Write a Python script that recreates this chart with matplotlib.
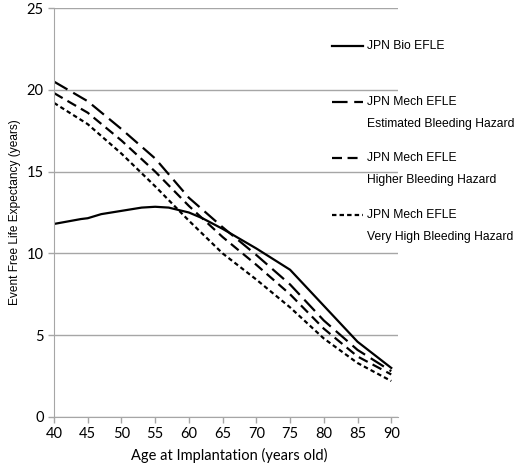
import numpy as np
import matplotlib.pyplot as plt
from matplotlib.lines import Line2D

# data
age_bio = [40, 42, 44, 45, 47, 50, 53, 55, 57, 60, 62, 65, 70, 75, 80, 85, 90]
bio = [11.8, 11.95, 12.1, 12.15, 12.4, 12.6, 12.8, 12.85, 12.8, 12.5, 12.15, 11.5, 10.3, 9.0, 6.8, 4.6, 3.0]

age_mech = [40, 45, 50, 55, 60, 65, 70, 75, 80, 85, 90]
mech_est = [20.5, 19.3, 17.6, 15.8, 13.4, 11.6, 9.9, 8.1, 5.9, 4.1, 2.8]
mech_high = [19.8, 18.6, 16.9, 15.0, 12.9, 11.0, 9.3, 7.5, 5.4, 3.7, 2.6]
mech_vhigh = [19.2, 17.9, 16.1, 14.1, 12.0, 10.0, 8.4, 6.7, 4.8, 3.3, 2.2]

labels = [("JPN Bio EFLE", None),
          ("JPN Mech EFLE", "Estimated Bleeding Hazard"),
          ("JPN Mech EFLE", "Higher Bleeding Hazard"),
          ("JPN Mech EFLE", "Very High Bleeding Hazard")]

grid_c = '#a6a6a6'
lw = 1.6
styles = ['-', (0, (7, 3)), (0, (4.5, 2.5)), (0, (2, 1.4))]

fig = plt.figure(figsize=(5.21, 4.67), dpi=100)
ax = fig.add_axes([54/521, 50/467, 344/521, 409/467])

ax.plot(age_bio, bio, color='black', lw=lw, ls=styles[0])
ax.plot(age_mech, mech_est, color='black', lw=lw, ls=styles[1])
ax.plot(age_mech, mech_high, color='black', lw=lw, ls=styles[2])
ax.plot(age_mech, mech_vhigh, color='black', lw=lw, ls=styles[3])

ax.set_xlim(40, 91)
ax.set_ylim(0, 25)
ax.set_xticks(range(40, 91, 5))
ax.set_yticks(range(0, 26, 5))
ax.yaxis.grid(True, color=grid_c, lw=1)
ax.set_axisbelow(True)
for s in ['top', 'right']:
    ax.spines[s].set_visible(False)
for s in ['left', 'bottom']:
    ax.spines[s].set_color(grid_c)
ax.tick_params(axis='both', colors=grid_c, length=4, width=1, labelcolor='black',
               labelsize=10.5)
for t in ax.get_xticklabels() + ax.get_yticklabels():
    t.set_family('Lato')

ax.set_ylabel('Event Free Life Expectancy (years)', family='Liberation Sans', fontsize=8.6)
ax.yaxis.set_label_coords(-0.095, 0.5)
ax.set_xlabel('Age at Implantation (years old)', family='Lato', fontsize=10.5)
ax.xaxis.set_label_coords(0.51, -0.075)

# legend drawn beside the plot area
rows = [46, 102, 158, 215]
for (l1, l2), y, st in zip(labels, rows, styles):
    yf = 1 - y/467
    fig.add_artist(Line2D([332/521, 363/521], [yf, yf], color='black', lw=lw, ls=st))
    fig.text(367/521, yf, l1, family='Liberation Sans', fontsize=8.7, va='center')
    if l2:
        fig.text(367/521, 1 - (y + 22)/467, l2, family='Liberation Sans', fontsize=8.7,
                 va='center')

plt.savefig('out.png', dpi=100)
